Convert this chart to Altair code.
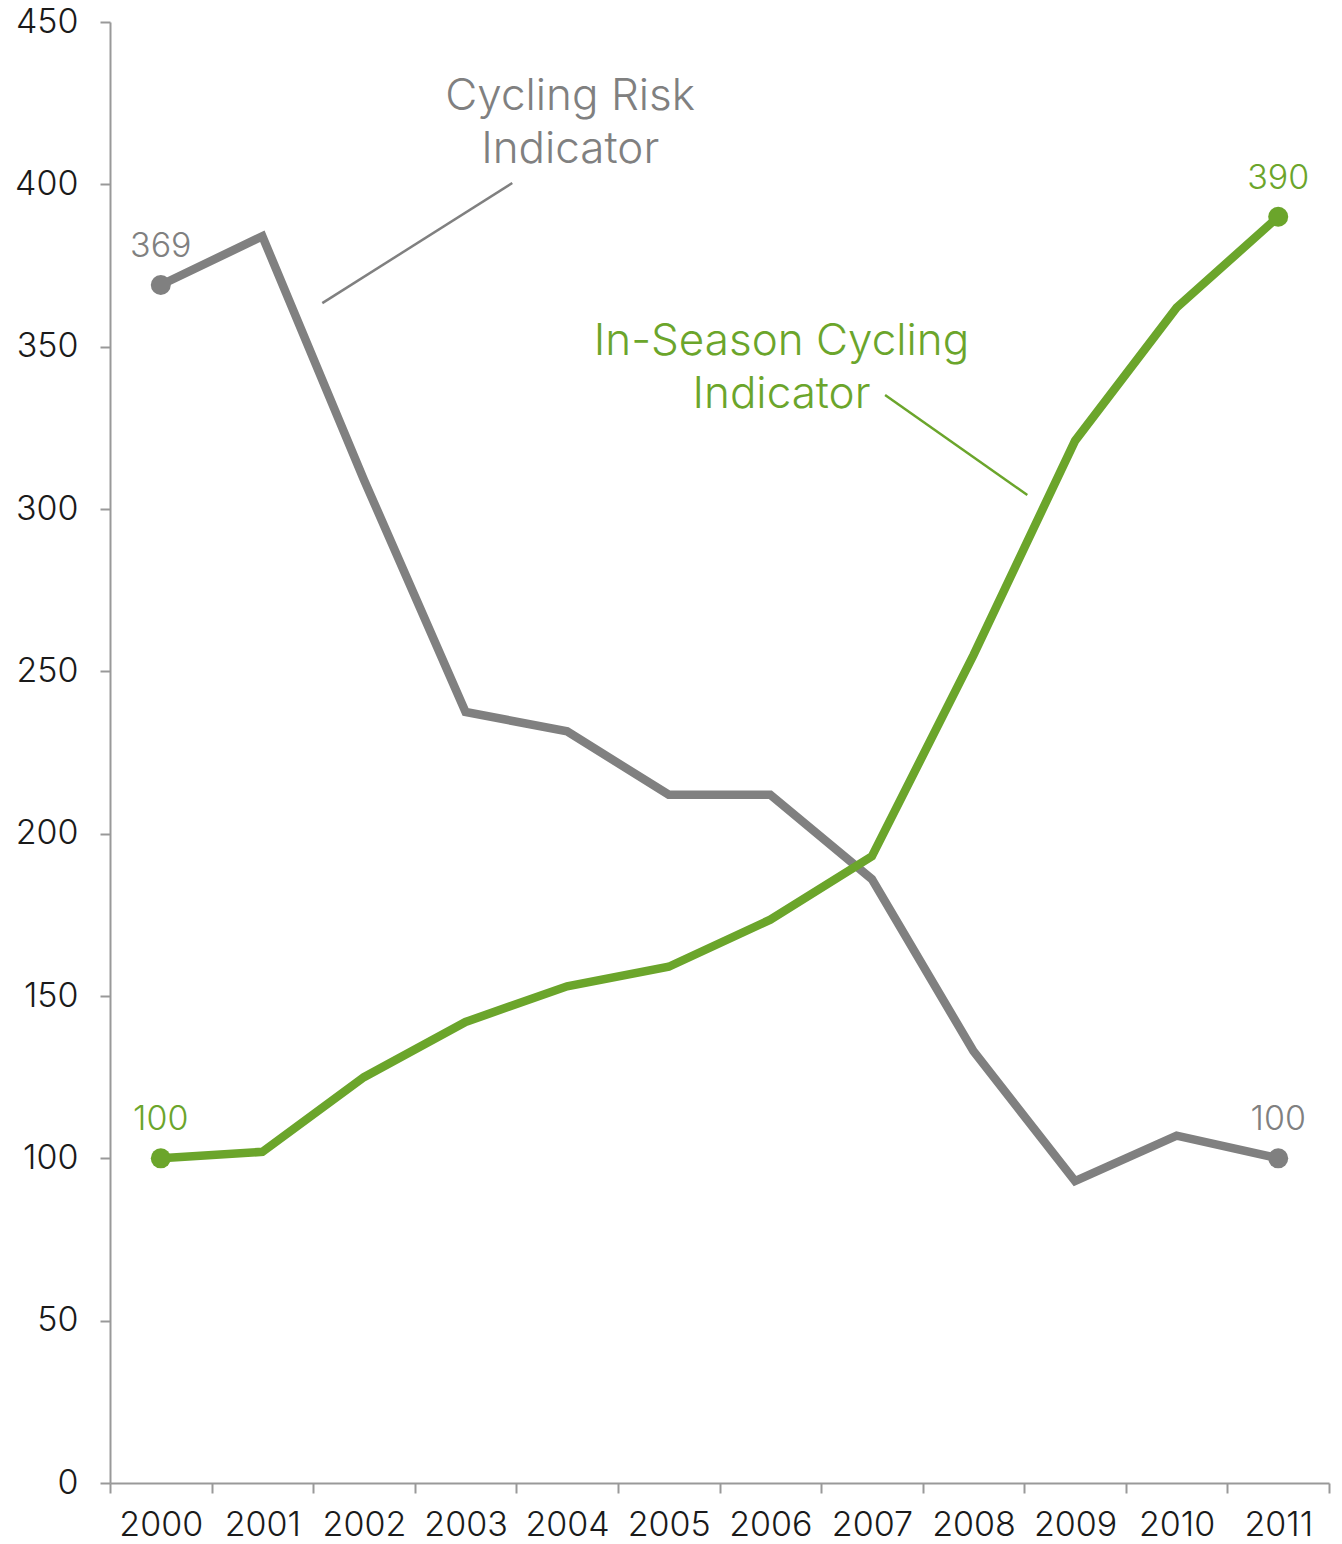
import altair as alt
import pandas as pd

years = [str(y) for y in range(2000, 2012)]
risk = [369, 384, 309, 237.5, 231.5, 212, 212, 186, 133, 93, 107, 100]
inseason = [100, 102, 125, 142, 153, 159, 173.5, 193, 255, 321, 362, 390]

GRAY = "#808080"
GREEN = "#6ba52b"
FONT = "Inter"

df = pd.DataFrame({
    "year": years * 2,
    "value": risk + inseason,
    "series": ["Cycling Risk Indicator"] * 12 + ["In-Season Cycling Indicator"] * 12,
})

end_years = ["2000", "2011", "2000", "2011"]
end_values = [369, 100, 100, 390]
end_series = ["Cycling Risk Indicator", "Cycling Risk Indicator",
              "In-Season Cycling Indicator", "In-Season Cycling Indicator"]
ends = pd.DataFrame({"year": end_years, "value": end_values, "series": end_series,
                     "label": [str(v) for v in end_values]})

# annotations (in data space: fractional year, value)
ann_text = [["Cycling Risk", "Indicator"], ["In-Season Cycling", "Indicator"]]
ann_x = [2004.03, 2006.11]
ann_y = [422.9, 347.4]
ann_series = ["Cycling Risk Indicator", "In-Season Cycling Indicator"]
lead_x1 = [2003.46, 2007.13]
lead_y1 = [400.4, 335.1]
lead_x2 = [2001.59, 2008.53]
lead_y2 = [363.4, 304.3]

ann = pd.DataFrame({"x": ann_x, "value": ann_y, "text": ann_text, "series": ann_series})
leads = pd.DataFrame({"x": lead_x1, "value": lead_y1, "x2": lead_x2, "y2": lead_y2,
                      "series": ann_series})

color = alt.Color("series:N", scale=alt.Scale(
    domain=["Cycling Risk Indicator", "In-Season Cycling Indicator"],
    range=[GRAY, GREEN]), legend=None)

x_enc = alt.X("year:O", title=None,
              scale=alt.Scale(paddingInner=0, paddingOuter=0),
              axis=alt.Axis(labelAngle=0, tickBand="extent", tickSize=10,
                            labelPadding=15, labelFontSize=34, labelColor="#1a1a1a",
                            labelFont=FONT, labelFontWeight=300,
                            domainColor="#999999", tickColor="#999999",
                            domainWidth=2, tickWidth=2))
y_scale = alt.Scale(domain=[0, 450], nice=False)
y_axis = alt.Axis(values=list(range(0, 451, 50)), tickSize=10,
                  labelPadding=22, labelFontSize=34, labelColor="#1a1a1a",
                  labelFont=FONT, labelFontWeight=300,
                  domainColor="#999999", tickColor="#999999",
                  domainWidth=2, tickWidth=2, grid=False)
y_enc = alt.Y("value:Q", title=None, scale=y_scale, axis=y_axis)

base = alt.Chart(df)
lines = base.mark_line(strokeWidth=8.5, strokeJoin="miter").encode(
    x=x_enc, y=y_enc, color=color, detail="series:N")

pts = alt.Chart(ends).mark_circle(size=400, opacity=1).encode(
    x=alt.X("year:O"), y=y_enc, color=color)

lbls = alt.Chart(ends).mark_text(fontSize=34, font=FONT, fontWeight=300,
                                 dy=-28, baseline="alphabetic").encode(
    x=alt.X("year:O"), y=y_enc, text="label:N", color=color)

main = alt.layer(lines, pts, lbls)

xq = alt.X("x:Q", scale=alt.Scale(domain=[1999.5, 2011.5], nice=False, zero=False), axis=None)

ann_layer = alt.Chart(ann).mark_text(fontSize=44, font=FONT, fontWeight=300,
                                     lineHeight=53, align="center",
                                     baseline="alphabetic").encode(
    x=xq, y=y_enc, text="text", color=color)
lead_layer = alt.Chart(leads).mark_rule(strokeWidth=2.5).encode(
    x=xq, y=y_enc, x2="x2:Q", y2="y2:Q", color=color)

chart = alt.layer(main, lead_layer, ann_layer).resolve_scale(x="independent").properties(
    width=1219, height=1461,
    autosize=alt.AutoSizeParams(type="none"),
    padding={"left": 102, "top": 14, "right": 5, "bottom": 61},
).configure_view(stroke=None)

chart.save("out.html", embed_options={"renderer": "svg", "actions": False})
